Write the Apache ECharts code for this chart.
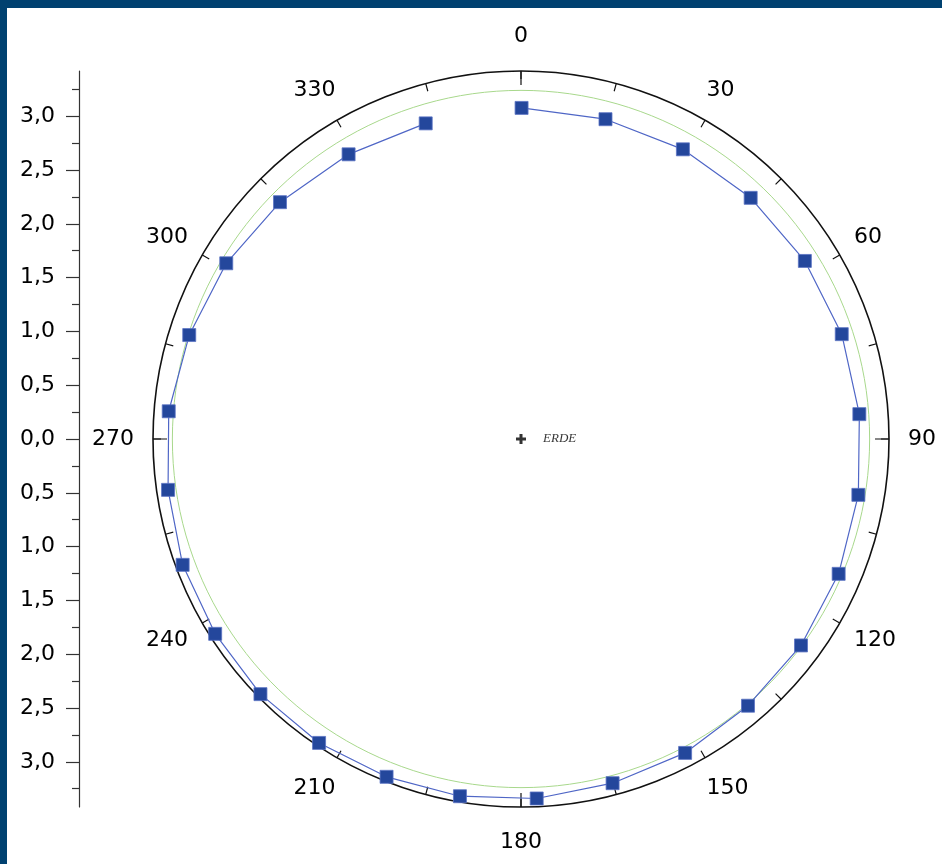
<!DOCTYPE html>
<html>
<head>
<meta charset="utf-8">
<script src="https://cdn.jsdelivr.net/npm/echarts@6/dist/echarts.min.js"></script>
<style>
html,body{margin:0;padding:0;background:#fff;}
#chart{width:942px;height:864px;}
</style>
</head>
<body>
<div id="chart"></div>
<script>
// ---- data ----
// orbit points: angle (deg, clockwise from top) and distance
var orbitAngles = [0.1, 14.8, 29.2, 43.6, 57.9, 71.9, 85.8, 99.4, 113.0, 126.4, 139.6, 152.4, 165.1, 177.5,
  189.7, 201.7, 213.6, 225.6, 237.5, 249.6, 261.8, 274.5, 287.4, 300.8, 314.5, 328.8, 343.2];
var orbitRadii = [3.077, 3.074, 3.084, 3.095, 3.114, 3.136, 3.153, 3.178, 3.207, 3.233, 3.255, 3.292, 3.310, 3.344,
  3.368, 3.379, 3.391, 3.389, 3.370, 3.355, 3.314, 3.284, 3.231, 3.189, 3.140, 3.093, 3.064];
// reference (mean) circle radius
var meanRadius = 3.24;
var radiusMax = 3.42;
// angle axis tick labels
var angleTickLabels = ['0', '30', '60', '90', '120', '150', '180', '210', '240', '270', '300', '330'];
// left distance scale ticks and labels
var radialTickValues = [3.0, 2.5, 2.0, 1.5, 1.0, 0.5, 0.0, -0.5, -1.0, -1.5, -2.0, -2.5, -3.0];
var radialTickLabels = ['3,0', '2,5', '2,0', '1,5', '1,0', '0,5', '0,0', '0,5', '1,0', '1,5', '2,0', '2,5', '3,0'];
var radialMinorTicks = [3.25, 2.75, 2.25, 1.75, 1.25, 0.75, 0.25, -0.25, -0.75, -1.25, -1.75, -2.25, -2.75, -3.25];
var centerLabel = 'ERDE';

// ---- build ----
var orbitData = orbitAngles.map(function (a, i) { return [orbitRadii[i], a]; });
var circleData = [];
for (var a = 0; a <= 360; a += 2) circleData.push([meanRadius, a]);

var CX = 521, CY = 439, R = 368;
var chart = echarts.init(document.getElementById('chart'), null, {renderer: 'canvas'});
var font = 'DejaVu Sans';
chart.setOption({
  backgroundColor: '#ffffff',
  animation: false,
  graphic: [
    {type: 'rect', left: 0, top: 0, shape: {width: 942, height: 8}, style: {fill: '#004170'}, z: 100},
    {type: 'rect', left: 0, top: 0, shape: {width: 7, height: 864}, style: {fill: '#004170'}, z: 100}
  ],
  polar: [
    {center: [CX, CY], radius: R},
    {center: [CX, CY], radius: R}
  ],
  angleAxis: [
    {
      polarIndex: 0, type: 'value', min: 0, max: 360, interval: 30, startAngle: 90, clockwise: true,
      axisLine: {lineStyle: {color: '#111', width: 1.6}},
      axisTick: {inside: true, length: 8, lineStyle: {color: '#111', width: 1.2}},
      minorTick: {show: true, splitNumber: 2, length: 8, lineStyle: {color: '#111', width: 1.2}},
      splitLine: {show: false},
      axisLabel: {
        margin: 35, fontSize: 22, fontFamily: font, color: '#000',
        padding: [-11, -16, -11, -16],
        formatter: function (v) { var i = Math.round(v / 30); return angleTickLabels[i] !== undefined ? angleTickLabels[i] : ''; }
      }
    },
    {
      polarIndex: 1, type: 'value', min: 0, max: 360, interval: 90, startAngle: 90, clockwise: true,
      axisLine: {show: false},
      axisTick: {inside: true, length: 14, lineStyle: {color: '#111', width: 1.2}},
      splitLine: {show: false},
      axisLabel: {show: false}
    }
  ],
  radiusAxis: [
    {polarIndex: 0, type: 'value', min: 0, max: radiusMax, show: false, splitLine: {show: false}},
    {polarIndex: 1, type: 'value', min: 0, max: radiusMax, show: false, splitLine: {show: false}}
  ],
  grid: {left: 79, top: 71, width: 1, height: 736},
  xAxis: {type: 'value', show: false},
  yAxis: [
    {
      type: 'value', min: -radiusMax, max: radiusMax, position: 'left',
      axisLine: {show: true, lineStyle: {color: '#333', width: 1.2}},
      axisTick: {show: true, length: 13, customValues: radialTickValues, lineStyle: {color: '#333', width: 1.2}},
      axisLabel: {
        show: true, customValues: radialTickValues, margin: 24, fontSize: 22, fontFamily: font, color: '#000',
        formatter: function (v) {
          for (var i = 0; i < radialTickValues.length; i++) if (Math.abs(radialTickValues[i] - v) < 1e-6) return radialTickLabels[i];
          return '';
        }
      },
      splitLine: {show: false}
    },
    {
      type: 'value', min: -radiusMax, max: radiusMax, position: 'left',
      axisLine: {show: false},
      axisTick: {show: true, length: 7, customValues: radialMinorTicks, lineStyle: {color: '#333', width: 1.2}},
      axisLabel: {show: false},
      splitLine: {show: false}
    }
  ],
  series: [
    {
      type: 'line', coordinateSystem: 'polar', polarIndex: 0, data: circleData,
      showSymbol: false, symbol: 'none', silent: true,
      lineStyle: {color: '#a8d88c', width: 1}, z: 1
    },
    {
      type: 'line', coordinateSystem: 'polar', polarIndex: 0, data: orbitData,
      symbol: 'rect', symbolSize: 13, showSymbol: true,
      itemStyle: {color: '#24479c', borderColor: '#5c74c4', borderWidth: 0.8},
      lineStyle: {color: '#4f66c6', width: 1.2}, z: 3
    },
    {
      type: 'scatter', coordinateSystem: 'polar', polarIndex: 0, data: [[0, 0]],
      symbol: 'path://M3.5,0h3v3.5h3.5v3h-3.5v3.5h-3v-3.5h-3.5v-3h3.5z', symbolSize: 10,
      itemStyle: {color: '#000'},
      label: {show: true, position: 'right', distance: 17, formatter: centerLabel,
        fontFamily: 'Liberation Serif', fontStyle: 'italic', fontSize: 13, color: '#000'}, z: 4
    }
  ]
});
</script>
</body>
</html>
